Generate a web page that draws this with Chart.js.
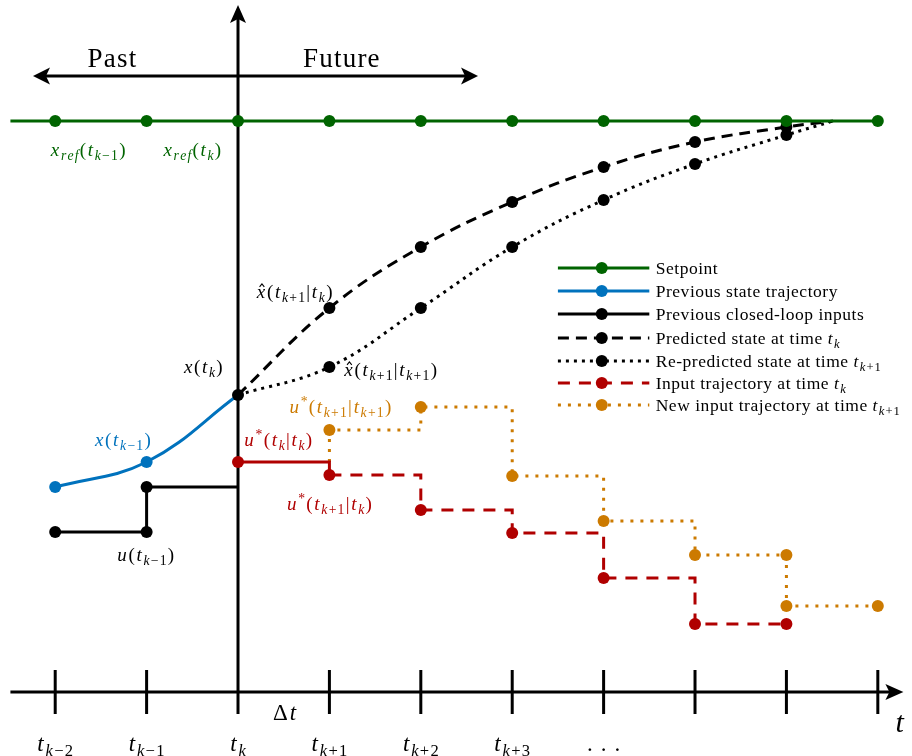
<!DOCTYPE html>
<html><head><meta charset="utf-8">
<script src="https://cdn.jsdelivr.net/npm/chart.js@4/dist/chart.umd.min.js"></script>
<style>html,body{margin:0;padding:0;background:#fff;}canvas{display:block;}</style>
</head><body>
<canvas id="c" width="912" height="756"></canvas>
<script>
// ---------- data ----------
const timeTicks = [-2, -1, 0, 1, 2, 3, 4, 5, 6, 7];
const tickLabels = ['$t_{k−2}$', '$t_{k−1}$', '$t_{k}$', '$t_{k+1}$', '$t_{k+2}$', '$t_{k+3}$', '. . .', '', '', ''];

const setpointX = [-2.49, -2, -1, 0, 1, 2, 3, 4, 5, 6, 7];
const setpointY = [5.71, 5.71, 5.71, 5.71, 5.71, 5.71, 5.71, 5.71, 5.71, 5.71, 5.71];

const stateX = [-2, -1, 0];
const stateY = [2.05, 2.30, 2.97];

const pastInputX = [-2, -1, -1, 0];
const pastInputY = [1.60, 1.60, 2.05, 2.05];

const predX = [0, 1, 2, 3, 4, 5, 6, 6.51];
const predY = [2.97, 3.84, 4.45, 4.90, 5.25, 5.50, 5.65, 5.71];

const repredX = [0, 1, 2, 3, 4, 5, 6, 6.51];
const repredY = [2.97, 3.25, 3.84, 4.45, 4.92, 5.28, 5.57, 5.71];

const inputX = [0, 1, 1, 2, 3, 4, 5, 6];
const inputY = [2.30, 2.30, 2.17, 1.82, 1.59, 1.14, 0.68, 0.68];

const newInputX = [1, 1, 2, 3, 4, 5, 6, 6, 7];
const newInputY = [2.30, 2.62, 2.85, 2.16, 1.71, 1.37, 1.37, 0.86, 0.86];

const legendLabels = [
  'Setpoint',
  'Previous state trajectory',
  'Previous closed-loop inputs',
  'Predicted state at time $t_{k}$',
  'Re-predicted state at time $t_{k+1}$',
  'Input trajectory at time $t_{k}$',
  'New input trajectory at time $t_{k+1}$'
];

// ---------- styles ----------
const GREEN = '#006400', BLUE = '#0072BD', BLACK = '#000000', RED = '#B00000', ORANGE = '#CC7A00';
const FONT = '"Liberation Serif", "DejaVu Serif", serif';
const R = 6;

const xy = (xs, ys) => xs.map((x, i) => ({ x, y: ys[i] }));

function ds(label, xs, ys, color, radii, extra) {
  return Object.assign({
    label, data: xy(xs, ys), borderColor: color, backgroundColor: color,
    pointBackgroundColor: color, pointBorderWidth: 0, pointRadius: radii,
    pointHoverRadius: radii, borderWidth: 3, tension: 0, fill: false, borderDash: []
  }, extra || {});
}

const datasets = [
  ds(legendLabels[0], setpointX, setpointY, GREEN, [0, R, R, R, R, R, R, R, R, R, R]),
  ds(legendLabels[3], predX, predY, BLACK, [R, R, R, R, R, R, R, 0], { borderDash: [11, 7], tension: 0.4 }),
  ds(legendLabels[4], repredX, repredY, BLACK, [0, R, R, R, R, R, R, 0], { borderDash: [3, 5], tension: 0.4 }),
  ds(legendLabels[1], stateX, stateY, BLUE, [R, R, 0], { tension: 0.4 }),
  ds(legendLabels[2], pastInputX, pastInputY, BLACK, [R, R, R, 0]),
  ds(legendLabels[5], inputX, inputY, RED, [R, 0, R, R, R, R, R, R], {
    stepped: true,
    segment: { borderDash: c => c.p0DataIndex >= 2 ? [12, 9] : undefined }
  }),
  ds(legendLabels[6], newInputX, newInputY, ORANGE, [0, R, R, R, R, R, R, R, R], { stepped: true, borderDash: [3, 7] })
];

// ---------- math-ish text ----------
function buildRuns(str, size) {
  const runs = [];
  let math = false, hat = false;
  function proc(s, sz, dy) {
    for (let i = 0; i < s.length; i++) {
      const c = s[i];
      if (c === '$') { math = !math; continue; }
      if (c === '#') { hat = true; continue; }
      if (math && (c === '_' || c === '^')) {
        let g;
        if (s[i + 1] === '{') {
          let d = 1, j = i + 2;
          while (j < s.length && d > 0) { if (s[j] === '{') d++; else if (s[j] === '}') d--; j++; }
          g = s.slice(i + 2, j - 1); i = j - 1;
        } else { g = s[i + 1]; i++; }
        proc(g, sz * 0.72, dy + (c === '_' ? sz * 0.22 : -sz * 0.38));
        continue;
      }
      runs.push({ c, sz, dy, it: math && /[A-Za-z]/.test(c), hat, math });
      hat = false;
    }
  }
  proc(str, size, 0);
  return runs;
}
function fontOf(r) { return (r.it ? 'italic ' : '') + r.sz + 'px ' + FONT; }
function drawMath(ctx, str, px, py, size, color, align, sp, spText) {
  sp = sp === undefined ? 0.09 : sp;
  spText = spText === undefined ? 0 : spText;
  const runs = buildRuns(str, size);
  let w = 0;
  runs.forEach((r, i) => {
    ctx.font = fontOf(r);
    r.w = ctx.measureText(r.c).width;
    r.sp = r.sz * (r.math ? sp : spText);
    w += r.w + (i < runs.length - 1 ? r.sp : 0);
  });
  let x = align === 'center' ? px - w / 2 : (align === 'right' ? px - w : px);
  const base = py + size * 0.33;
  ctx.save();
  ctx.fillStyle = color; ctx.strokeStyle = color;
  ctx.textBaseline = 'alphabetic'; ctx.textAlign = 'left';
  runs.forEach(r => {
    ctx.font = fontOf(r);
    ctx.fillText(r.c, x, base + r.dy);
    if (r.hat) {
      const cx = x + r.w * 0.6, top = base + r.dy - r.sz * 0.6;
      ctx.lineWidth = 1.1;
      ctx.beginPath();
      ctx.moveTo(cx - r.w * 0.28, top);
      ctx.lineTo(cx, top - r.sz * 0.16);
      ctx.lineTo(cx + r.w * 0.28, top);
      ctx.stroke();
    }
    x += r.w + r.sp;
  });
  ctx.restore();
  return w;
}

function arrowHead(ctx, tx, ty, dx, dy, len, hw, notch) {
  const bx = tx - dx * len, by = ty - dy * len, nx = -dy, ny = dx;
  ctx.beginPath();
  ctx.moveTo(tx, ty);
  ctx.lineTo(bx + nx * hw, by + ny * hw);
  ctx.lineTo(tx - dx * (len - notch), ty - dy * (len - notch));
  ctx.lineTo(bx - nx * hw, by - ny * hw);
  ctx.closePath(); ctx.fill();
}

// layout constants (data units)
const axisXExtent = [-2.49, 7.28];
const axisYExtent = [-0.22, 6.87];
const tickHalf = 0.22;
const pastFutureY = 6.16, pastFutureX = [-2.243, 2.626];

const annotations = [
  { t: 'Past', x: -1.38, y: 6.34, s: 27, c: BLACK, sp: 0, st: 0.045 },
  { t: 'Future', x: 1.13, y: 6.34, s: 27, c: BLACK, sp: 0, st: 0.045 },
  { t: '$x_{ref}(t_{k−1})$', x: -1.64, y: 5.42, s: 19, c: GREEN },
  { t: '$x_{ref}(t_{k})$', x: -0.50, y: 5.42, s: 19, c: GREEN },
  { t: '$#x(t_{k+1}|t_{k})$', x: 0.62, y: 4.00, s: 19, c: BLACK },
  { t: '$x(t_{k})$', x: -0.38, y: 3.25, s: 19, c: BLACK },
  { t: '$#x(t_{k+1}|t_{k+1})$', x: 1.67, y: 3.22, s: 19, c: BLACK },
  { t: '$u^{*}(t_{k+1}|t_{k+1})$', x: 1.12, y: 2.85, s: 19, c: ORANGE },
  { t: '$u^{*}(t_{k}|t_{k})$', x: 0.44, y: 2.52, s: 19, c: RED },
  { t: '$u^{*}(t_{k+1}|t_{k})$', x: 1.00, y: 1.88, s: 19, c: RED },
  { t: '$x(t_{k−1})$', x: -1.26, y: 2.52, s: 19, c: BLUE },
  { t: '$u(t_{k−1})$', x: -1.01, y: 1.37, s: 19, c: BLACK },
  { t: 'Δ$t$', x: 0.51, y: -0.20, s: 23, c: BLACK, sp: 0.08, st: 0.08 },
  { t: '$t$', x: 7.24, y: -0.30, s: 30, c: BLACK }
];
const tickLabelY = -0.51;

const legendX = { left: 3.50, right: 4.50, mark: 3.98, text: 4.57 };
const legendRows = [4.24, 4.01, 3.78, 3.54, 3.31, 3.09, 2.87];

const axesPlugin = {
  id: 'axes',
  beforeDatasetsDraw(chart) {
    const ctx = chart.ctx, xs = chart.scales.x, ys = chart.scales.y;
    const X = v => xs.getPixelForValue(v), Y = v => ys.getPixelForValue(v);
    ctx.save();
    ctx.strokeStyle = BLACK; ctx.fillStyle = BLACK; ctx.lineWidth = 3; ctx.lineCap = 'butt';
    const ay = Y(0);
    ctx.beginPath(); ctx.moveTo(X(axisXExtent[0]), ay); ctx.lineTo(X(axisXExtent[1]) - 8, ay); ctx.stroke();
    arrowHead(ctx, X(axisXExtent[1]), ay, 1, 0, 18, 8, 4);
    timeTicks.forEach(t => {
      if (t === 0) return;
      ctx.beginPath(); ctx.moveTo(X(t), Y(tickHalf)); ctx.lineTo(X(t), Y(-tickHalf)); ctx.stroke();
    });
    const ax = X(0);
    ctx.beginPath(); ctx.moveTo(ax, Y(axisYExtent[0])); ctx.lineTo(ax, Y(axisYExtent[1]) + 8); ctx.stroke();
    arrowHead(ctx, ax, Y(axisYExtent[1]), 0, -1, 18, 8, 4);
    const py = Y(pastFutureY);
    ctx.beginPath(); ctx.moveTo(X(pastFutureX[0]) + 8, py); ctx.lineTo(X(pastFutureX[1]) - 8, py); ctx.stroke();
    arrowHead(ctx, X(pastFutureX[0]), py, -1, 0, 17, 8.5, 4);
    arrowHead(ctx, X(pastFutureX[1]), py, 1, 0, 17, 8.5, 4);
    ctx.restore();
  },
  afterDatasetsDraw(chart) {
    const ctx = chart.ctx, xs = chart.scales.x, ys = chart.scales.y;
    const X = v => xs.getPixelForValue(v), Y = v => ys.getPixelForValue(v);
    timeTicks.forEach((t, i) => { if (tickLabels[i]) drawMath(ctx, tickLabels[i], X(t), Y(tickLabelY), 23, BLACK, 'center', 0.08, 0.05); });
    annotations.forEach(a => drawMath(ctx, a.t, X(a.x), Y(a.y), a.s, a.c, 'center', a.sp, a.st));
    const order = [0, 3, 4, 1, 2, 5, 6];
    order.forEach((di, row) => {
      const d = chart.data.datasets[di];
      const yy = Y(legendRows[row]);
      ctx.save();
      ctx.strokeStyle = d.borderColor; ctx.lineWidth = 3;
      let dash = d.borderDash || [];
      if (di === 5) dash = [12, 9];
      ctx.setLineDash(dash);
      ctx.beginPath(); ctx.moveTo(X(legendX.left), yy); ctx.lineTo(X(legendX.right), yy); ctx.stroke();
      ctx.setLineDash([]);
      ctx.fillStyle = d.borderColor;
      ctx.beginPath(); ctx.arc(X(legendX.mark), yy, R, 0, Math.PI * 2); ctx.fill();
      ctx.restore();
      drawMath(ctx, d.label, X(legendX.text), yy, 17.5, BLACK, 'left', 0.08, 0.03);
    });
  }
};

new Chart(document.getElementById('c'), {
  type: 'line',
  data: { datasets },
  options: {
    responsive: false, maintainAspectRatio: false, animation: false,
    layout: { padding: 0, autoPadding: false },
    plugins: { legend: { display: false }, tooltip: { enabled: false } },
    events: [],
    scales: {
      x: { type: 'linear', min: -2.604, max: 7.374, display: false },
      y: { type: 'linear', min: -0.64, max: 6.92, display: false }
    }
  },
  plugins: [axesPlugin]
});
</script>
</body></html>
